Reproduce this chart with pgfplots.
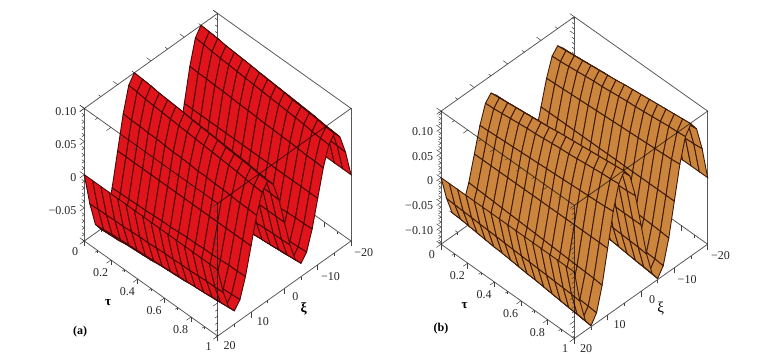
\documentclass[border=0pt]{standalone}
\usepackage{fontspec}
\setmainfont{Liberation Serif}
\usepackage{pgfplots}
\pgfplotsset{compat=1.18}
\definecolor{redface}{HTML}{E0141A}
\definecolor{brownface}{HTML}{CB853D}
\pgfplotsset{maple/.style={
  disabledatascaling, anchor=origin, y dir=reverse,
  xmin=0,xmax=1,ymin=-20,ymax=20,
  axis lines=box, 3d box=complete,
  axis line style={black,opacity=0.65,line width=0.8pt},
  tick align=outside,
  major tick length=5.5bp, minor tick length=3bp,
  tick style={black!75,line width=0.5pt},
  xtick={0,0.2,0.4,0.6,0.8,1}, minor xtick={0.1,0.3,0.5,0.7,0.9},
  xticklabels={0,0.2,0.4,0.6,0.8,1},
  ytick={-20,-10,0,10,20}, minor ytick={-15,-5,5,15},
  yticklabels={−20,−10,0,10,20},
  xtick pos=left, ytick pos=left, ztick pos=left, zticklabel pos=left,
  /pgf/number format/assume math mode=true,
  tick label style={font=\fontsize{12bp}{14bp}\selectfont,text=black!85},
  x tick label style={yshift=2bp},
  y tick label style={xshift=2bp,yshift=4bp},
  grid=none, clip=false,
}}
\begin{document}
\begin{tikzpicture}[x=1bp,y=1bp]
\useasboundingbox (0,0) rectangle (775,358);
\begin{axis}[maple,
  at={(150.97bp,230.8bp)},
  x={(133.4bp,-95bp)}, y={(3.333bp,2.375bp)}, z={(0bp,663bp)},
  zmin=-0.1,zmax=0.1,
  ztick={-0.05,0,0.05,0.1}, zticklabels={−0.05,0,0.05,0.10},
  minor ztick={-0.10,-0.09,-0.08,-0.07,-0.06,-0.04,-0.03,-0.02,-0.01,0.01,0.02,0.03,0.04,0.06,0.07,0.08,0.09},
  xlabel={\bfseries τ}, ylabel={\bfseries ξ},
  every axis x label/.style={at={(axis cs:0.415,29.5,-0.1)},anchor=center,font=\fontsize{13bp}{14bp}\selectfont},
  every axis y label/.style={at={(axis cs:1.18,1.36,-0.1)},anchor=center,font=\fontsize{14bp}{14bp}\selectfont},
]
\addplot3[surf,shader=faceted,z buffer=none,
  faceted color={rgb,255:red,70;green,8;blue,8},line width=0.9pt,
  colormap={r}{color=(redface) color=(redface)},
  mesh/rows=25,mesh/cols=17]
 table[header=false,row sep=\\,z index=0,
   x expr={mod(\coordindex,17)/16},
   y expr={-20+floor((\coordindex+0.5)/17)*5/3}] {
0\\0\\0\\0\\0\\0\\0\\0\\0\\0\\0\\0\\0\\0\\0\\0\\0\\
0.050\\0.049\\0.049\\0.048\\0.048\\0.047\\0.046\\0.046\\0.045\\0.044\\0.044\\0.043\\0.043\\0.042\\0.041\\0.041\\0.040\\
0.087\\0.086\\0.084\\0.083\\0.082\\0.081\\0.080\\0.079\\0.078\\0.077\\0.076\\0.075\\0.074\\0.073\\0.071\\0.070\\0.069\\
0.100\\0.099\\0.098\\0.096\\0.095\\0.094\\0.093\\0.091\\0.090\\0.089\\0.088\\0.086\\0.085\\0.084\\0.083\\0.081\\0.080\\
0.087\\0.086\\0.084\\0.083\\0.082\\0.081\\0.080\\0.079\\0.078\\0.077\\0.076\\0.075\\0.074\\0.073\\0.071\\0.070\\0.069\\
0.050\\0.049\\0.049\\0.048\\0.048\\0.047\\0.046\\0.046\\0.045\\0.044\\0.044\\0.043\\0.043\\0.042\\0.041\\0.041\\0.040\\
0\\0\\0\\0\\0\\0\\0\\0\\0\\0\\0\\0\\0\\0\\0\\0\\0\\
-0.050\\-0.049\\-0.049\\-0.048\\-0.048\\-0.047\\-0.046\\-0.046\\-0.045\\-0.044\\-0.044\\-0.043\\-0.043\\-0.042\\-0.041\\-0.041\\-0.040\\
-0.087\\-0.086\\-0.084\\-0.083\\-0.082\\-0.081\\-0.080\\-0.079\\-0.078\\-0.077\\-0.076\\-0.075\\-0.074\\-0.073\\-0.071\\-0.070\\-0.069\\
-0.100\\-0.099\\-0.098\\-0.096\\-0.095\\-0.094\\-0.093\\-0.091\\-0.090\\-0.089\\-0.088\\-0.086\\-0.085\\-0.084\\-0.083\\-0.081\\-0.080\\
-0.087\\-0.086\\-0.084\\-0.083\\-0.082\\-0.081\\-0.080\\-0.079\\-0.078\\-0.077\\-0.076\\-0.075\\-0.074\\-0.073\\-0.071\\-0.070\\-0.069\\
-0.050\\-0.049\\-0.049\\-0.048\\-0.048\\-0.047\\-0.046\\-0.046\\-0.045\\-0.044\\-0.044\\-0.043\\-0.043\\-0.042\\-0.041\\-0.041\\-0.040\\
0\\0\\0\\0\\0\\0\\0\\0\\0\\0\\0\\0\\0\\0\\0\\0\\0\\
0.050\\0.049\\0.049\\0.048\\0.048\\0.047\\0.046\\0.046\\0.045\\0.044\\0.044\\0.043\\0.043\\0.042\\0.041\\0.041\\0.040\\
0.087\\0.086\\0.084\\0.083\\0.082\\0.081\\0.080\\0.079\\0.078\\0.077\\0.076\\0.075\\0.074\\0.073\\0.071\\0.070\\0.069\\
0.100\\0.099\\0.098\\0.096\\0.095\\0.094\\0.093\\0.091\\0.090\\0.089\\0.088\\0.086\\0.085\\0.084\\0.083\\0.081\\0.080\\
0.087\\0.086\\0.084\\0.083\\0.082\\0.081\\0.080\\0.079\\0.078\\0.077\\0.076\\0.075\\0.074\\0.073\\0.071\\0.070\\0.069\\
0.050\\0.049\\0.049\\0.048\\0.048\\0.047\\0.046\\0.046\\0.045\\0.044\\0.044\\0.043\\0.043\\0.042\\0.041\\0.041\\0.040\\
0\\0\\0\\0\\0\\0\\0\\0\\0\\0\\0\\0\\0\\0\\0\\0\\0\\
-0.050\\-0.049\\-0.049\\-0.048\\-0.048\\-0.047\\-0.046\\-0.046\\-0.045\\-0.044\\-0.044\\-0.043\\-0.043\\-0.042\\-0.041\\-0.041\\-0.040\\
-0.087\\-0.086\\-0.084\\-0.083\\-0.082\\-0.081\\-0.080\\-0.079\\-0.078\\-0.077\\-0.076\\-0.075\\-0.074\\-0.073\\-0.071\\-0.070\\-0.069\\
-0.100\\-0.099\\-0.098\\-0.096\\-0.095\\-0.094\\-0.093\\-0.091\\-0.090\\-0.089\\-0.088\\-0.086\\-0.085\\-0.084\\-0.083\\-0.081\\-0.080\\
-0.087\\-0.086\\-0.084\\-0.083\\-0.082\\-0.081\\-0.080\\-0.079\\-0.078\\-0.077\\-0.076\\-0.075\\-0.074\\-0.073\\-0.071\\-0.070\\-0.069\\
-0.050\\-0.049\\-0.049\\-0.048\\-0.048\\-0.047\\-0.046\\-0.046\\-0.045\\-0.044\\-0.044\\-0.043\\-0.043\\-0.042\\-0.041\\-0.041\\-0.040\\
0\\0\\0\\0\\0\\0\\0\\0\\0\\0\\0\\0\\0\\0\\0\\0\\0\\
};
\end{axis}
\begin{axis}[maple,
  at={(507.67bp,227.5bp)},
  x={(133.3bp,-94.3bp)}, y={(3.333bp,2.358bp)}, z={(0bp,493bp)},
  zmin=-0.135,zmax=0.135,
  ztick={-0.1,-0.05,0,0.05,0.1}, zticklabels={−0.10,−0.05,0,0.05,0.10},
  minor ztick={-0.13,-0.12,-0.11,-0.09,-0.08,-0.07,-0.06,-0.04,-0.03,-0.02,-0.01,0.01,0.02,0.03,0.04,0.06,0.07,0.08,0.09,0.11,0.12,0.13},
  xlabel={\bfseries τ}, ylabel={ξ},
  every axis x label/.style={at={(axis cs:0.415,29.5,-0.135)},anchor=center,font=\fontsize{13bp}{14bp}\selectfont},
  every axis y label/.style={at={(axis cs:1.165,0.7,-0.135)},anchor=center,font=\fontsize{15bp}{15bp}\selectfont},
]
\addplot3[surf,shader=faceted,z buffer=none,
  faceted color={rgb,255:red,60;green,25;blue,8},line width=0.9pt,
  colormap={b}{color=(brownface) color=(brownface)},
  mesh/rows=25,mesh/cols=17]
 table[header=false,row sep=\\,z index=0,
   x expr={mod(\coordindex,17)/16},
   y expr={-20+floor((\coordindex+0.5)/17)*5/3}] {
0\\0\\0\\0\\0\\0\\0\\0\\0\\0\\0\\0\\0\\0\\0\\0\\0\\
0.050\\0.051\\0.052\\0.053\\0.054\\0.055\\0.056\\0.057\\0.058\\0.059\\0.060\\0.061\\0.062\\0.063\\0.064\\0.065\\0.067\\
0.087\\0.088\\0.090\\0.092\\0.094\\0.096\\0.097\\0.099\\0.101\\0.103\\0.104\\0.106\\0.108\\0.110\\0.112\\0.113\\0.115\\
0.100\\0.102\\0.104\\0.106\\0.108\\0.110\\0.112\\0.114\\0.117\\0.119\\0.121\\0.123\\0.125\\0.127\\0.129\\0.131\\0.133\\
0.087\\0.088\\0.090\\0.092\\0.094\\0.096\\0.097\\0.099\\0.101\\0.103\\0.104\\0.106\\0.108\\0.110\\0.112\\0.113\\0.115\\
0.050\\0.051\\0.052\\0.053\\0.054\\0.055\\0.056\\0.057\\0.058\\0.059\\0.060\\0.061\\0.062\\0.063\\0.064\\0.065\\0.067\\
0\\0\\0\\0\\0\\0\\0\\0\\0\\0\\0\\0\\0\\0\\0\\0\\0\\
-0.050\\-0.051\\-0.052\\-0.053\\-0.054\\-0.055\\-0.056\\-0.057\\-0.058\\-0.059\\-0.060\\-0.061\\-0.062\\-0.063\\-0.064\\-0.065\\-0.067\\
-0.087\\-0.088\\-0.090\\-0.092\\-0.094\\-0.096\\-0.097\\-0.099\\-0.101\\-0.103\\-0.104\\-0.106\\-0.108\\-0.110\\-0.112\\-0.113\\-0.115\\
-0.100\\-0.102\\-0.104\\-0.106\\-0.108\\-0.110\\-0.112\\-0.114\\-0.117\\-0.119\\-0.121\\-0.123\\-0.125\\-0.127\\-0.129\\-0.131\\-0.133\\
-0.087\\-0.088\\-0.090\\-0.092\\-0.094\\-0.096\\-0.097\\-0.099\\-0.101\\-0.103\\-0.104\\-0.106\\-0.108\\-0.110\\-0.112\\-0.113\\-0.115\\
-0.050\\-0.051\\-0.052\\-0.053\\-0.054\\-0.055\\-0.056\\-0.057\\-0.058\\-0.059\\-0.060\\-0.061\\-0.062\\-0.063\\-0.064\\-0.065\\-0.067\\
0\\0\\0\\0\\0\\0\\0\\0\\0\\0\\0\\0\\0\\0\\0\\0\\0\\
0.050\\0.051\\0.052\\0.053\\0.054\\0.055\\0.056\\0.057\\0.058\\0.059\\0.060\\0.061\\0.062\\0.063\\0.064\\0.065\\0.067\\
0.087\\0.088\\0.090\\0.092\\0.094\\0.096\\0.097\\0.099\\0.101\\0.103\\0.104\\0.106\\0.108\\0.110\\0.112\\0.113\\0.115\\
0.100\\0.102\\0.104\\0.106\\0.108\\0.110\\0.112\\0.114\\0.117\\0.119\\0.121\\0.123\\0.125\\0.127\\0.129\\0.131\\0.133\\
0.087\\0.088\\0.090\\0.092\\0.094\\0.096\\0.097\\0.099\\0.101\\0.103\\0.104\\0.106\\0.108\\0.110\\0.112\\0.113\\0.115\\
0.050\\0.051\\0.052\\0.053\\0.054\\0.055\\0.056\\0.057\\0.058\\0.059\\0.060\\0.061\\0.062\\0.063\\0.064\\0.065\\0.067\\
0\\0\\0\\0\\0\\0\\0\\0\\0\\0\\0\\0\\0\\0\\0\\0\\0\\
-0.050\\-0.051\\-0.052\\-0.053\\-0.054\\-0.055\\-0.056\\-0.057\\-0.058\\-0.059\\-0.060\\-0.061\\-0.062\\-0.063\\-0.064\\-0.065\\-0.067\\
-0.087\\-0.088\\-0.090\\-0.092\\-0.094\\-0.096\\-0.097\\-0.099\\-0.101\\-0.103\\-0.104\\-0.106\\-0.108\\-0.110\\-0.112\\-0.113\\-0.115\\
-0.100\\-0.102\\-0.104\\-0.106\\-0.108\\-0.110\\-0.112\\-0.114\\-0.117\\-0.119\\-0.121\\-0.123\\-0.125\\-0.127\\-0.129\\-0.131\\-0.133\\
-0.087\\-0.088\\-0.090\\-0.092\\-0.094\\-0.096\\-0.097\\-0.099\\-0.101\\-0.103\\-0.104\\-0.106\\-0.108\\-0.110\\-0.112\\-0.113\\-0.115\\
-0.050\\-0.051\\-0.052\\-0.053\\-0.054\\-0.055\\-0.056\\-0.057\\-0.058\\-0.059\\-0.060\\-0.061\\-0.062\\-0.063\\-0.064\\-0.065\\-0.067\\
0\\0\\0\\0\\0\\0\\0\\0\\0\\0\\0\\0\\0\\0\\0\\0\\0\\
};
\end{axis}
\node[font=\fontsize{12bp}{14bp}\selectfont\bfseries] at (80,26) {(a)};
\node[font=\fontsize{12bp}{14bp}\selectfont\bfseries] at (441,29) {(b)};
\end{tikzpicture}
\end{document}
